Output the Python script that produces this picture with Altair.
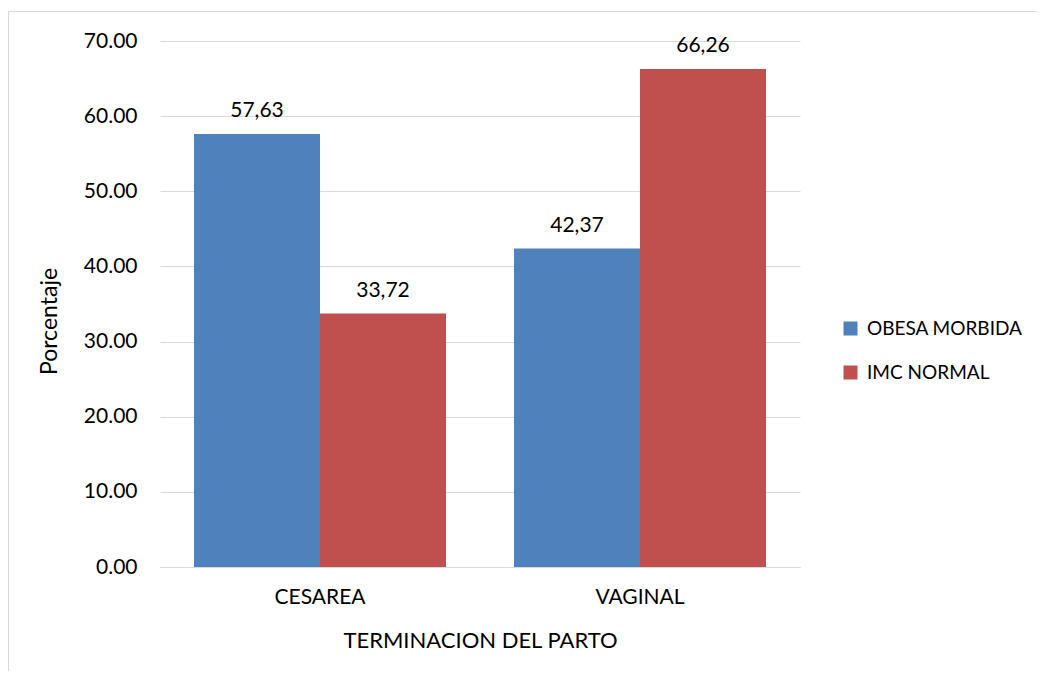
import altair as alt
import pandas as pd

categories = ["CESAREA", "CESAREA", "VAGINAL", "VAGINAL"]
series = ["OBESA MORBIDA", "    IMC NORMAL", "OBESA MORBIDA", "    IMC NORMAL"]
values = [57.63, 33.72, 42.37, 66.26]
labels = ["57,63", "33,72", "42,37", "66,26"]

series_order = ["OBESA MORBIDA", "    IMC NORMAL"]
colors = ["#4F81BD", "#C0504D"]
y_ticks = [0, 10, 20, 30, 40, 50, 60, 70]

df = pd.DataFrame({"cat": categories, "serie": series, "valor": values, "etiqueta": labels})

FONT = "Lato"
W, H = 640, 526

x = alt.X("cat:N", title="TERMINACION DEL PARTO",
          scale=alt.Scale(paddingInner=0.2125, paddingOuter=0.10625),
          axis=alt.Axis(labelAngle=0, ticks=False, domainColor="#D9D9D9", labelPadding=19,
                        labelFontSize=21, labelColor="#000000", labelFont=FONT, labelFontWeight="normal",
                        titleFontSize=22, titleColor="#000000", titleFont=FONT, titleFontWeight="normal",
                        titleY=73, titleBaseline="middle"))
xo = alt.XOffset("serie:N", sort=series_order, scale=alt.Scale(paddingInner=0, paddingOuter=0))
y = alt.Y("valor:Q", title="Porcentaje",
          scale=alt.Scale(domain=[0, 70], nice=False),
          axis=alt.Axis(values=y_ticks, format=".2f", domain=False, ticks=False, labelPadding=23,
                        gridColor="#D9D9D9", labelFontSize=21, labelColor="#000000", labelFont=FONT,
                        labelFontWeight="normal",
                        titleFontSize=23, titleColor="#000000", titleFont=FONT, titleFontWeight="normal",
                        titleX=-111, titleY=280, titleAngle=-90, titleAlign="center",
                        titleBaseline="middle"))
color = alt.Color("serie:N", sort=series_order,
                  scale=alt.Scale(domain=series_order, range=colors),
                  legend=alt.Legend(title=None, orient="none", legendX=681, legendY=278,
                                    symbolType="square", symbolSize=196, symbolStrokeWidth=0,
                                    symbolOpacity=1, labelFontSize=19, labelFont=FONT,
                                    labelColor="#000000", rowPadding=24, padding=0, labelOffset=7,
                                    labelLimit=400,
                                    labelExpr="replace(datum.label, / /g, '\u00a0')"))

border = alt.Chart(pd.DataFrame({"a": [0]})).mark_rect(
    fill=None, stroke="#D9D9D9", strokeWidth=1
).encode(x=alt.value(-151.5), x2=alt.value(900), y=alt.value(-29.5), y2=alt.value(660))

bars = alt.Chart(df).mark_bar(size=126).encode(x=x, xOffset=xo, y=y, color=color)
text = alt.Chart(df).mark_text(align="center", baseline="alphabetic", dy=-17,
                               fontSize=21, font=FONT, color="#000000").encode(
    x=x, xOffset=xo, y=y, text="etiqueta:N")

chart = alt.layer(border, bars, text).properties(
    width=W, height=H,
    autosize=alt.AutoSizeParams(type="none"),
    padding={"left": 152, "top": 33, "right": 237, "bottom": 104},
    background="white"
).configure_view(stroke=None)

chart.save("out.html", embed_options={"renderer": "svg", "actions": False})
